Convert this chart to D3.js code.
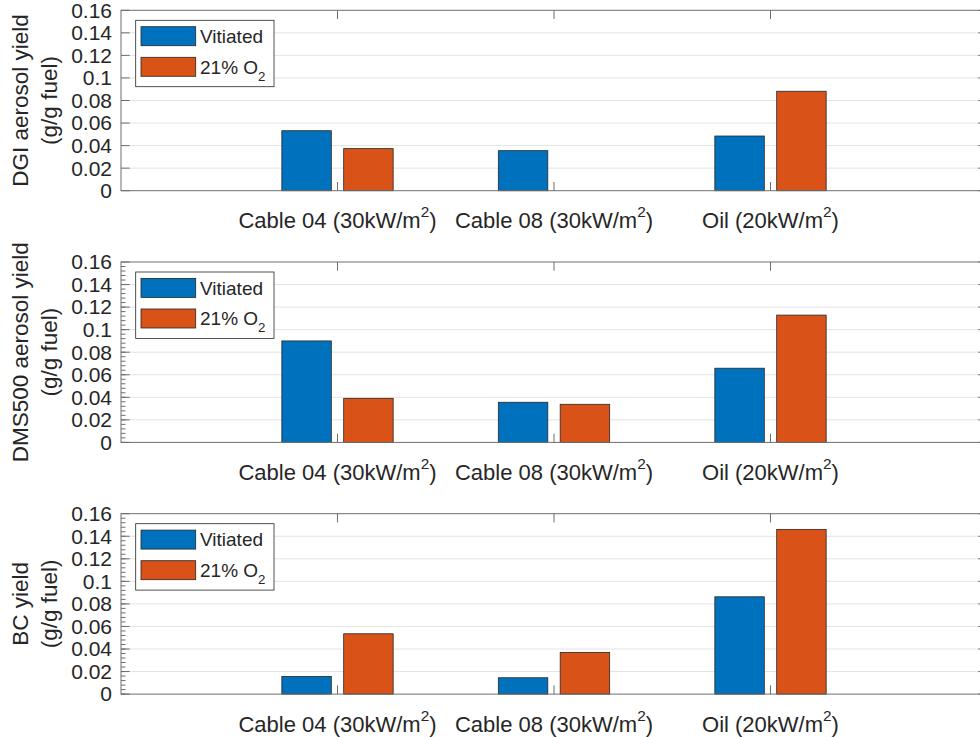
<!DOCTYPE html>
<html lang="en">
<head>
<meta charset="UTF-8">
<title>Aerosol yields</title>
<script src="https://d3js.org/d3.v7.min.js"></script>
<style>
    body{ margin:0; background:#fff; }
    .chart{ font-family: "Liberation Sans", Arial, Helvetica, sans-serif; }
    .chart text{ fill:#262626; }
</style>
</head>
<body>
<svg class="chart"></svg>
<script>
// ---- data ----
const categories = ['Cable 04 (30kW/m^2)', 'Cable 08 (30kW/m^2)', 'Oil (20kW/m^2)'];
const seriesNames = ['Vitiated', '21% O_2'];

const dgiVitiated = [0.0532, 0.0355, 0.0485];
const dgiO2       = [0.0373, null,   0.0882];
const dmsVitiated = [0.0900, 0.0356, 0.0658];
const dmsO2       = [0.0391, 0.0338, 0.1129];
const bcVitiated  = [0.0157, 0.0145, 0.0863];
const bcO2        = [0.0535, 0.0370, 0.1461];

const yLabels = [
    ['DGI aerosol yield', '(g/g fuel)'],
    ['DMS500 aerosol yield', '(g/g fuel)'],
    ['BC yield', '(g/g fuel)']
];
const yTicks = [0, 0.02, 0.04, 0.06, 0.08, 0.1, 0.12, 0.14, 0.16];
const yTickLabels = ['0', '0.02', '0.04', '0.06', '0.08', '0.1', '0.12', '0.14', '0.16'];

const panels = [
    {series:[dgiVitiated, dgiO2], label:yLabels[0], minor:false},
    {series:[dmsVitiated, dmsO2], label:yLabels[1], minor:true},
    {series:[bcVitiated, bcO2],   label:yLabels[2], minor:true}
];

// ---- layout ----
const W = 980, H = 737;
const left = 121, right = 987;
const top0 = 10.3, step = 251.7, ph = 180.4;
const colors = ['#0072BD', '#D95319'];
const tickLen = 8.7, minorLen = 4.5;

const svg = d3.select('.chart').attr('width', W).attr('height', H);

const x = d3.scaleLinear().domain([0, 4]).range([left, right]);
const xInner = d3.scaleBand().domain([0, 1]).range([-0.2857, 0.2857])
                 .paddingInner(0.2).paddingOuter(0.1);

// write TeX-ish strings (^x superscript, _x subscript) as tspans
function texText(sel, str, fs, base){
    const parts = str.split(/([\^_].)/).filter(s => s);
    let shift = -base;
    parts.forEach(p => {
        let target = 0, size = fs, txt = p;
        if(p[0] === '^'){ target = -0.5*fs; size = 0.7*fs; txt = p[1]; }
        else if(p[0] === '_'){ target = 0.38*fs; size = 0.7*fs; txt = p[1]; }
        sel.append('tspan').attr('dy', target - shift).attr('font-size', size).text(txt);
        shift = target;
    });
}

panels.forEach((p, pi) => {
    const top = top0 + pi*step, bottom = top + ph;
    const y = d3.scaleLinear().domain([0, 0.16]).range([bottom, top]);
    const g = svg.append('g');

    // grid
    g.selectAll('.grid').data(yTicks.slice(1, -1)).enter()
        .append('line')
        .attr('x1', left).attr('x2', right)
        .attr('y1', d => y(d)).attr('y2', d => y(d))
        .attr('stroke', '#e3e3e3').attr('stroke-width', 1);

    // bars
    p.series.forEach((vals, si) => {
        const rows = vals.map((v, i) => ({v: v, i: i})).filter(d => d.v !== null);
        g.selectAll('.bar' + si).data(rows).enter()
            .append('rect')
            .attr('x', d => x(d.i + 1 + xInner(si)))
            .attr('width', x(xInner.bandwidth()) - x(0))
            .attr('y', d => y(d.v))
            .attr('height', d => bottom - y(d.v))
            .attr('fill', colors[si])
            .attr('stroke', '#262626').attr('stroke-width', 0.8);
    });

    // box
    g.append('rect')
        .attr('x', left).attr('y', top)
        .attr('width', right - left).attr('height', ph)
        .attr('fill', 'none').attr('stroke', '#6e6e6e').attr('stroke-width', 1);

    // y ticks
    const ax = g.append('g').attr('stroke', '#6e6e6e');
    yTicks.forEach(t => {
        ax.append('line').attr('x1', left).attr('x2', left + tickLen).attr('y1', y(t)).attr('y2', y(t));
        ax.append('line').attr('x1', right).attr('x2', right - tickLen).attr('y1', y(t)).attr('y2', y(t));
    });
    if(p.minor){
        d3.range(0, 0.16, 0.004).forEach(t => {
            ax.append('line').attr('x1', left).attr('x2', left + minorLen).attr('y1', y(t)).attr('y2', y(t));
            ax.append('line').attr('x1', right).attr('x2', right - minorLen).attr('y1', y(t)).attr('y2', y(t));
        });
    }
    g.selectAll('.ytl').data(yTicks).enter()
        .append('text')
        .attr('x', left - 9).attr('y', d => y(d))
        .attr('dy', '0.35em')
        .attr('text-anchor', 'end')
        .attr('font-size', 21)
        .text((d, i) => yTickLabels[i]);

    // x ticks
    categories.forEach((c, i) => {
        ax.append('line').attr('x1', x(i + 1)).attr('x2', x(i + 1)).attr('y1', bottom).attr('y2', bottom - tickLen);
        ax.append('line').attr('x1', x(i + 1)).attr('x2', x(i + 1)).attr('y1', top).attr('y2', top + tickLen);
        const t = g.append('text')
            .attr('x', x(i + 1)).attr('y', bottom + 37.5)
            .attr('text-anchor', 'middle')
            .attr('font-size', 22);
        texText(t, c, 22, 0);
    });

    // y label
    const yl = g.append('g').attr('transform', 'translate(27.7,' + (top + ph/2) + ') rotate(-90)');
    p.label.forEach((l, li) => {
        yl.append('text').attr('x', 0).attr('y', li*29.5)
            .attr('text-anchor', 'middle').attr('font-size', 22.5).text(l);
    });

    // legend
    const lg = g.append('g').attr('transform', 'translate(' + (left + 14.7) + ',' + (top + 10) + ')');
    lg.append('rect').attr('width', 138.3).attr('height', 66.4)
        .attr('fill', '#fff').attr('stroke', '#262626').attr('stroke-width', 0.8);
    seriesNames.forEach((s, si) => {
        lg.append('rect').attr('x', 5.3).attr('y', 6.4 + si*30.6)
            .attr('width', 54.7).attr('height', 19)
            .attr('fill', colors[si]).attr('stroke', '#262626').attr('stroke-width', 0.8);
        const t = lg.append('text').attr('x', 64.3).attr('y', 16 + si*30.6)
            .attr('font-size', 19);
        texText(t, s, 19, 0.35*19);
    });
});
</script>
</body>
</html>
